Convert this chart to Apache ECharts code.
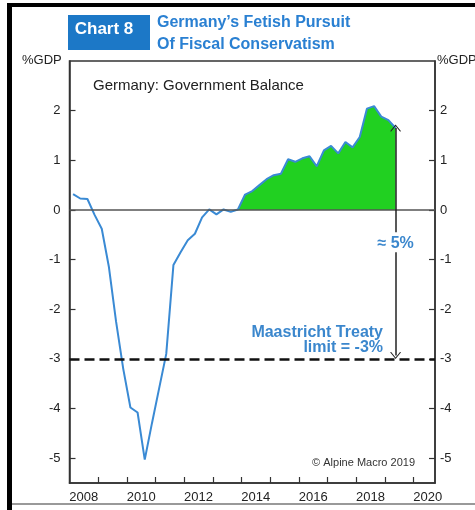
<!DOCTYPE html>
<html>
<head>
<meta charset="utf-8">
<script src="https://cdn.jsdelivr.net/npm/echarts@6/dist/echarts.min.js"></script>
<style>
  html, body { margin: 0; padding: 0; background: #fff; }
  #chart { width: 475px; height: 510px; }
</style>
</head>
<body>
<div id="chart"></div>
<script>
// quarterly government balance, % of GDP
const quarters = [
  '2008Q1', '2008Q2', '2008Q3', '2008Q4', '2009Q1', '2009Q2', '2009Q3', '2009Q4',
  '2010Q1', '2010Q2', '2010Q3', '2010Q4', '2011Q1', '2011Q2', '2011Q3', '2011Q4',
  '2012Q1', '2012Q2', '2012Q3', '2012Q4', '2013Q1', '2013Q2', '2013Q3', '2013Q4',
  '2014Q1', '2014Q2', '2014Q3', '2014Q4', '2015Q1', '2015Q2', '2015Q3', '2015Q4',
  '2016Q1', '2016Q2', '2016Q3', '2016Q4', '2017Q1', '2017Q2', '2017Q3', '2017Q4',
  '2018Q1', '2018Q2', '2018Q3', '2018Q4', '2019Q1', '2019Q2'
]
const balance = [
  0.32, 0.23, 0.22, -0.1, -0.38, -1.15, -2.25, -3.2,
  -3.98, -4.08, -5.03, -4.3, -3.6, -2.9, -1.11, -0.85,
  -0.61, -0.48, -0.15, 0.01, -0.09, 0.01, -0.04, 0.01,
  0.31, 0.38, 0.5, 0.62, 0.7, 0.73, 1.02, 0.97,
  1.04, 1.08, 0.88, 1.2, 1.29, 1.14, 1.37, 1.26,
  1.47, 2.04, 2.09, 1.88, 1.81, 1.65
]
const surplusFrom = '2013Q4' // green shading starts here
const maastrichtLimit = -3
const yTicks = [-5, -4, -3, -2, -1, 0, 1, 2]
const xTickYears = [2009, 2010, 2011, 2012, 2013, 2014, 2015, 2016, 2017, 2018, 2019, 2020]
const xLabelYears = [2008, 2010, 2012, 2014, 2016, 2018, 2020]

// quarter label -> decimal year (middle of the quarter)
const toYear = (q) => +q.slice(0, 4) + (+q.slice(5) - 1) * 0.25 + 0.125
const lineData = quarters.map((q, i) => [toYear(q), balance[i]])
const startIdx = quarters.indexOf(surplusFrom)
const fillData = quarters.map((q, i) => [toYear(q), i >= startIdx ? balance[i] : null])
const lastX = toYear(quarters[quarters.length - 1])
const lastY = balance[balance.length - 1]

const blue = '#3a8ad4'
const textBlue = '#3b87cd'
const axisColor = '#333'
const chevron = 'path://M0,10 L5,0 L10,10 L9,10.6 L5,2.2 L1,10.6 Z'

const yAxisBase = {
  type: 'value',
  min: -5.5,
  max: 3,
  axisLine: { show: true, lineStyle: { color: axisColor, width: 1.5 } },
  axisTick: { show: true, inside: true, length: 6, customValues: yTicks, lineStyle: { color: axisColor, width: 1.2 } },
  axisLabel: { customValues: yTicks, color: '#222', fontSize: 13, fontFamily: 'Liberation Sans' },
  splitLine: { show: false }
}

const option = {
  animation: false,
  grid: {
    left: 69.5,
    right: 40,
    top: 61,
    bottom: 27,
    show: true,
    borderColor: axisColor,
    borderWidth: 1.5
  },
  xAxis: {
    type: 'value',
    min: 2008,
    max: 2020.75,
    axisLine: { show: true, onZero: false, lineStyle: { color: axisColor, width: 1.5 } },
    axisTick: { show: true, inside: true, length: 6, customValues: xTickYears, lineStyle: { color: axisColor, width: 1.2 } },
    axisLabel: {
      customValues: xLabelYears.map(y => y + 0.5),
      formatter: (v) => String(Math.floor(v)),
      color: '#222',
      fontSize: 13,
      margin: 8,
      fontFamily: 'Liberation Sans'
    },
    splitLine: { show: false }
  },
  yAxis: [
    Object.assign({}, yAxisBase, {
      position: 'left',
      axisLabel: Object.assign({}, yAxisBase.axisLabel, { margin: 9 })
    }),
    Object.assign({}, yAxisBase, {
      position: 'right',
      axisLabel: Object.assign({}, yAxisBase.axisLabel, { margin: 5 })
    })
  ],
  series: [
    {
      name: 'surplus',
      type: 'line',
      data: fillData,
      symbol: 'none',
      lineStyle: { width: 0 },
      areaStyle: { color: '#21d021', opacity: 1, origin: 0 },
      z: 1
    },
    {
      name: 'Government Balance',
      type: 'line',
      data: lineData,
      symbol: 'none',
      lineStyle: { color: blue, width: 2 },
      z: 3,
      markLine: {
        silent: true,
        symbol: 'none',
        label: { show: false },
        data: [
          { yAxis: 0, lineStyle: { color: '#555', width: 1.5, type: 'solid' } },
          { yAxis: maastrichtLimit, lineStyle: { color: '#111', width: 2.5, type: [10, 5] } },
          [
            { coord: [lastX, lastY], symbol: chevron, symbolSize: [11, 7], lineStyle: { color: '#222', width: 1.5, type: 'solid' } },
            { coord: [lastX, -0.45], symbol: 'none' }
          ],
          [
            { coord: [lastX, -0.85], symbol: 'none', lineStyle: { color: '#222', width: 1.5, type: 'solid' } },
            { coord: [lastX, maastrichtLimit + 0.07], symbol: chevron, symbolSize: [11, 7] }
          ]
        ]
      },
      markPoint: {
        silent: true,
        symbol: 'circle',
        symbolSize: 0,
        data: [
          {
            coord: [lastX, (lastY + maastrichtLimit) / 2],
            label: {
              show: true,
              position: 'inside',
              formatter: '≈ 5%',
              color: textBlue,
              fontSize: 16,
              fontWeight: 'bold',
              fontFamily: 'Liberation Sans'
            }
          }
        ]
      }
    }
  ],
  graphic: [
    // frame
    { type: 'rect', shape: { x: 7, y: 3, width: 5, height: 507 }, style: { fill: '#000' } },
    { type: 'rect', shape: { x: 7, y: 3, width: 468, height: 4 }, style: { fill: '#000' } },
    { type: 'rect', shape: { x: 12, y: 503, width: 463, height: 2 }, style: { fill: '#999' } },
    // header
    { type: 'rect', shape: { x: 68, y: 15, width: 82, height: 35 }, style: { fill: '#1c78c7' } },
    { type: 'text', x: 104, y: 29, style: { text: 'Chart 8', fill: '#fff', font: 'bold 17px "Liberation Sans"', textAlign: 'center', textVerticalAlign: 'middle' } },
    { type: 'text', x: 157, y: 23, style: { text: 'Germany’s Fetish Pursuit', fill: '#2a80d2', font: 'bold 16px "Liberation Sans"', textAlign: 'left', textVerticalAlign: 'middle' } },
    { type: 'text', x: 157, y: 45, style: { text: 'Of Fiscal Conservatism', fill: '#2a80d2', font: 'bold 16px "Liberation Sans"', textAlign: 'left', textVerticalAlign: 'middle' } },
    // axis units
    { type: 'text', x: 22, y: 60, style: { text: '%GDP', fill: '#222', font: '13px "Liberation Sans"', textAlign: 'left', textVerticalAlign: 'middle' } },
    { type: 'text', x: 437, y: 60, style: { text: '%GDP', fill: '#222', font: '13px "Liberation Sans"', textAlign: 'left', textVerticalAlign: 'middle' } },
    // inner title
    { type: 'text', x: 93, y: 86, style: { text: 'Germany: Government Balance', fill: '#222', font: '15px "Liberation Sans"', textAlign: 'left', textVerticalAlign: 'middle' } },
    // Maastricht note
    { type: 'text', x: 383, y: 333, style: { text: 'Maastricht Treaty', fill: textBlue, font: 'bold 16px "Liberation Sans"', textAlign: 'right', textVerticalAlign: 'middle' } },
    { type: 'text', x: 383, y: 348, style: { text: 'limit = -3%', fill: textBlue, font: 'bold 16px "Liberation Sans"', textAlign: 'right', textVerticalAlign: 'middle' } },
    // source
    { type: 'text', x: 415, y: 463, style: { text: '© Alpine Macro 2019', fill: '#333', font: '11px "Liberation Sans"', textAlign: 'right', textVerticalAlign: 'middle' } }
  ]
}

const chart = echarts.init(document.getElementById('chart'))
chart.setOption(option)
</script>
</body>
</html>
